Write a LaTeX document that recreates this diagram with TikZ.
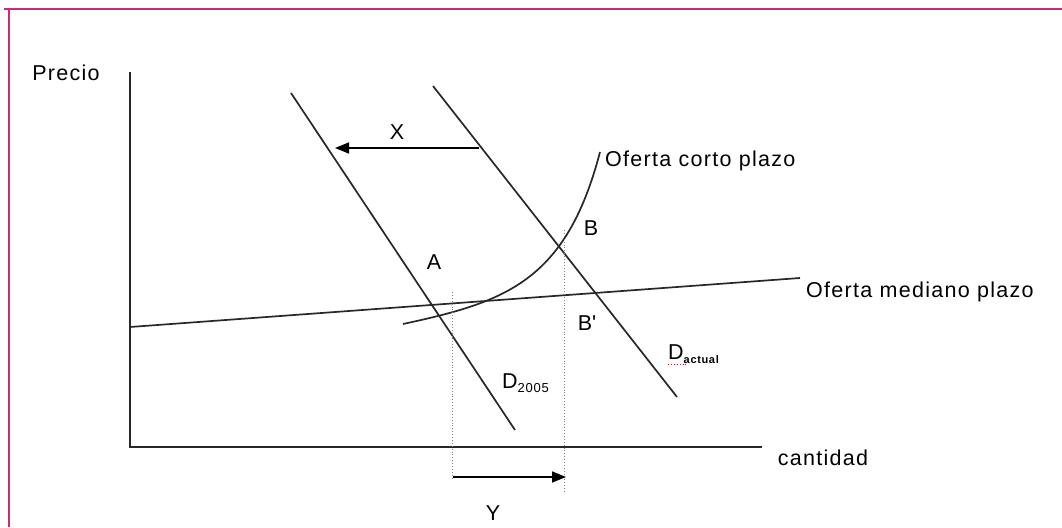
\documentclass[tikz,border=0pt]{standalone}
\usepackage{fontspec}
\setmainfont{Liberation Sans}[LetterSpace=6]
\usetikzlibrary{arrows.meta}
\definecolor{framec}{RGB}{200,45,115}
\definecolor{linec}{RGB}{40,40,40}
\begin{document}
\begin{tikzpicture}[x=1pt,y=-1pt,
  lab/.style={inner sep=0pt,font=\fontsize{21.5}{24}\selectfont,text=black},
  curveline/.style={draw=linec,line width=1.7pt},
  guide/.style={draw=gray,line width=0.9pt,dotted},
  shiftarrow/.style={draw=black,line width=1.7pt,-{Triangle[length=14pt,width=11pt]}}]
\useasboundingbox (0,0) rectangle (1062,527);
\fill[white] (0,0) rectangle (1062,527);
% frame
\draw[framec,line width=2pt] (4,9.5) -- (1062,9.5);
\draw[framec,line width=2pt] (8.5,9) -- (8.5,527);
% axes
\coordinate (yax) at (130,72);
\coordinate (org) at (130,447);
\coordinate (xax) at (762,447);
\draw[curveline] (yax) -- (org) -- (xax);
% demand lines
\coordinate (d1a) at (291,93);
\coordinate (d1b) at (515,430);
\coordinate (d2a) at (433,86);
\coordinate (d2b) at (677,397);
\draw[curveline] (d1a) -- (d1b);
\draw[curveline] (d2a) -- (d2b);
% long-run supply
\coordinate (lra) at (130,327);
\coordinate (lrb) at (800,278);
\draw[curveline] (lra) -- (lrb);
% short-run supply
\coordinate (sra) at (403,324);
\coordinate (srb) at (600,152);
\draw[curveline] (sra) .. controls (505,302) and (566,282) .. (srb);
% dotted guides
\coordinate (g1a) at (452,292);
\coordinate (g1b) at (452,480);
\coordinate (g2a) at (564,230);
\coordinate (g2b) at (564,492);
\draw[guide] (g1a) -- (g1b);
\draw[guide] (g2a) -- (g2b);
% arrows
\coordinate (xs) at (479,148);
\coordinate (xe) at (335,148);
\draw[shiftarrow] (xs) -- (xe);
\coordinate (ys) at (453,477);
\coordinate (ye) at (566,477);
\draw[shiftarrow] (ys) -- (ye);
% labels
\node[lab] (precio) at (66,73) {Precio};
\node[lab] (cant) at (823,458) {cantidad};
\node[lab,anchor=west] (ocp) at (605,161) {Oferta corto plazo};
\node[lab,anchor=west] (omp) at (806,292) {Oferta mediano plazo};
\node[lab] (lx) at (397,132) {X};
\node[lab] (ly) at (493,513) {Y};
\node[lab] (la) at (434,262) {A};
\node[lab] (lb) at (591,228) {B};
\node[lab] (lbp) at (587,323) {B\textquotesingle};
\node[lab,anchor=west] (ld1) at (502,383) {D\raisebox{-4pt}{\fontsize{13}{14}\selectfont 2005}};
\node[lab,anchor=west] (ld2) at (668,354) {D\raisebox{-4pt}{\fontsize{11}{12}\selectfont\bfseries actual}};
\draw[red,line width=0.9pt,dotted] (ld2.south west) ++(0,1) -- ++(20,0);
\end{tikzpicture}
\end{document}
